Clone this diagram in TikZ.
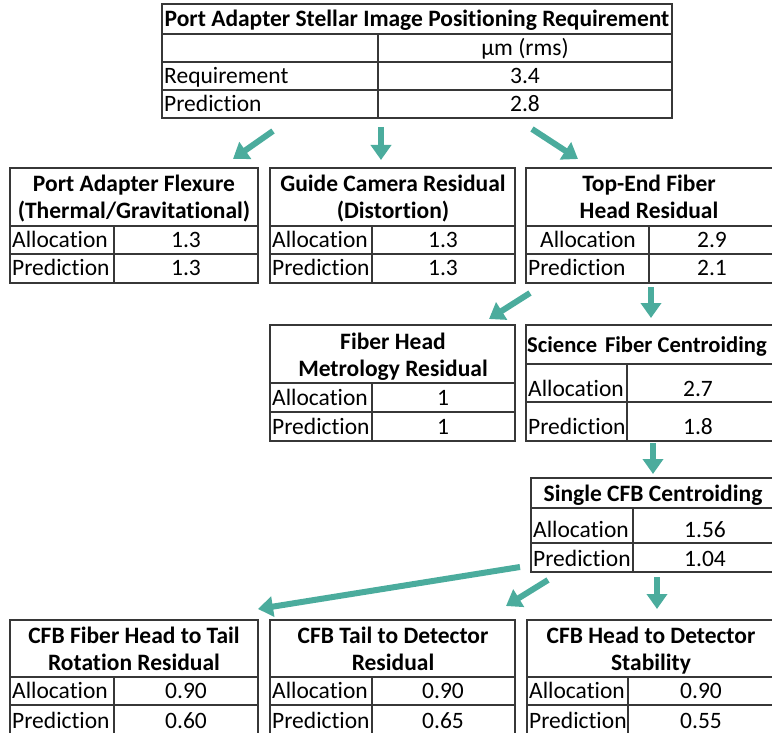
\documentclass[tikz,border=0pt]{standalone}
\usepackage{fontspec}
\setmainfont{Carlito}[Ligatures=NoCommon]
\usetikzlibrary{arrows.meta}
\definecolor{arrteal}{RGB}{75,172,157}
\definecolor{gridgrey}{RGB}{55,55,55}
\begin{document}
\begin{tikzpicture}[x=1pt,y=-1pt,
  tline/.style={draw=gridgrey, line width=1.2pt},
  ttl/.style={font=\fontsize{23.5}{28}\selectfont\bfseries, inner sep=0pt, anchor=base},
  ttlw/.style={font=\fontsize{22.6}{28}\selectfont\bfseries, inner sep=0pt, anchor=base west},
  lbl/.style={font=\fontsize{23.5}{28}\selectfont, inner sep=0pt, anchor=base west},
  lblc/.style={font=\fontsize{23.5}{28}\selectfont, inner sep=0pt, anchor=base},
  val/.style={font=\fontsize{23.5}{28}\selectfont, inner sep=0pt, anchor=base},
  arr/.style={draw=arrteal, line width=6pt, -{Triangle[width=20pt,length=15pt]}}]
\useasboundingbox (0,0) rectangle (772,733);
\clip (0,0) rectangle (772,733);

% ---------- top table
\draw[tline] (162,4) rectangle (672,118);
\draw[tline] (162,34)--(672,34) (162,62)--(672,62) (162,90)--(672,90) (378,34)--(378,118);
\node[ttl] (t0) at (417,26.5) {Port Adapter Stellar Image Positioning Requirement};
\node[val] (t0u) at (525,55.5) {µm (rms)};
\node[lbl] (t0r) at (164,83.5) {Requirement};
\node[val] (t0rv) at (525,83.5) {3.4};
\node[lbl] (t0p) at (164,111.5) {Prediction};
\node[val] (t0pv) at (525,111.5) {2.8};

% ---------- table A
\draw[tline] (10,168) rectangle (258,283);
\draw[tline] (10,226)--(258,226) (10,254)--(258,254) (114,226)--(114,283);
\node[ttl] (ta1) at (134,191.5) {Port Adapter Flexure};
\node[ttl] (ta2) at (134,218.5) {(Thermal/Gravitational)};
\node[lbl] (taa) at (12,247.5) {Allocation};
\node[val] (taav) at (186,247.5) {1.3};
\node[lbl] (tap) at (12,275.5) {Prediction};
\node[val] (tapv) at (186,275.5) {1.3};

% ---------- table B
\draw[tline] (270,168) rectangle (515,283);
\draw[tline] (270,226)--(515,226) (270,254)--(515,254) (372,226)--(372,283);
\node[ttl] (tb1) at (393,191.5) {Guide Camera Residual};
\node[ttl] (tb2) at (393,218.5) {(Distortion)};
\node[lbl] (tba) at (272,247.5) {Allocation};
\node[val] (tbav) at (443,247.5) {1.3};
\node[lbl] (tbp) at (272,275.5) {Prediction};
\node[val] (tbpv) at (443,275.5) {1.3};

% ---------- table C
\draw[tline] (526,168) rectangle (775,283);
\draw[tline] (526,226)--(775,226) (526,254)--(775,254) (649,226)--(649,283);
\node[ttl] (tc1) at (649,191.5) {Top-End Fiber};
\node[ttl] (tc2) at (649,218.5) {Head Residual};
\node[lblc] (tca) at (588,247.5) {Allocation};
\node[val] (tcav) at (712,247.5) {2.9};
\node[lbl] (tcp) at (528,275.5) {Prediction};
\node[val] (tcpv) at (712,275.5) {2.1};

% ---------- table D
\draw[tline] (270,325) rectangle (515,441);
\draw[tline] (270,383)--(515,383) (270,412)--(515,412) (372,383)--(372,441);
\node[ttl] (td1) at (393,349.5) {Fiber Head};
\node[ttl] (td2) at (393,376.5) {Metrology Residual};
\node[lbl] (tda) at (272,405.5) {Allocation};
\node[val] (tdav) at (443,405.5) {1};
\node[lbl] (tdp) at (272,434.5) {Prediction};
\node[val] (tdpv) at (443,434.5) {1};

% ---------- table E
\draw[tline] (526,325) rectangle (775,441);
\draw[tline] (526,364)--(775,364) (526,402)--(775,402) (627,364)--(627,441);
\node[ttlw] (te1) at (527,352.5) {Science\hspace{0.12em} Fiber Centroiding};
\node[lbl] (tea) at (528,396.5) {Allocation};
\node[val] (teav) at (698,396.5) {2.7};
\node[lbl] (tep) at (528,434.5) {Prediction};
\node[val] (tepv) at (698,434.5) {1.8};

% ---------- table F
\draw[tline] (531,478) rectangle (775,572);
\draw[tline] (531,508)--(775,508) (531,543)--(775,543) (633,508)--(633,572);
\node[ttl] (tf1) at (653,501) {Single CFB Centroiding};
\node[lbl] (tfa) at (533,537) {Allocation};
\node[val] (tfav) at (705,537) {1.56};
\node[lbl] (tfp) at (533,566) {Prediction};
\node[val] (tfpv) at (705,566) {1.04};

% ---------- table G
\draw[tline] (10,620) rectangle (258,740);
\draw[tline] (10,677)--(258,677) (10,705)--(258,705) (114,677)--(114,740);
\node[ttl] (tg1) at (134,643.5) {CFB Fiber Head to Tail};
\node[ttl] (tg2) at (134,670.5) {Rotation Residual};
\node[lbl] (tga) at (12,698.5) {Allocation};
\node[val] (tgav) at (186,698.5) {0.90};
\node[lbl] (tgp) at (12,728) {Prediction};
\node[val] (tgpv) at (186,728) {0.60};

% ---------- table H
\draw[tline] (270,620) rectangle (515,740);
\draw[tline] (270,677)--(515,677) (270,705)--(515,705) (372,677)--(372,740);
\node[ttl] (th1) at (393,643.5) {CFB Tail to Detector};
\node[ttl] (th2) at (393,670.5) {Residual};
\node[lbl] (tha) at (272,698.5) {Allocation};
\node[val] (thav) at (443,698.5) {0.90};
\node[lbl] (thp) at (272,728) {Prediction};
\node[val] (thpv) at (443,728) {0.65};

% ---------- table I
\draw[tline] (527,620) rectangle (775,740);
\draw[tline] (527,677)--(775,677) (527,705)--(775,705) (628,677)--(628,740);
\node[ttl] (ti1) at (651,643.5) {CFB Head to Detector};
\node[ttl] (ti2) at (651,670.5) {Stability};
\node[lbl] (tia) at (529,698.5) {Allocation};
\node[val] (tiav) at (701,698.5) {0.90};
\node[lbl] (tip) at (529,728) {Prediction};
\node[val] (tipv) at (701,728) {0.55};

% ---------- arrows
\coordinate (a1s) at (273,131); \coordinate (a1e) at (233,159);
\coordinate (a2s) at (381,127); \coordinate (a2e) at (381,160);
\coordinate (a3s) at (532,129); \coordinate (a3e) at (578,159);
\coordinate (a4s) at (530,293); \coordinate (a4e) at (489,319);
\coordinate (a5s) at (651,287); \coordinate (a5e) at (651,318);
\coordinate (a6s) at (653,443); \coordinate (a6e) at (653,474);
\coordinate (a7s) at (520,567); \coordinate (a7e) at (258,609);
\coordinate (a8s) at (548,580); \coordinate (a8e) at (506,606);
\coordinate (a9s) at (657,577); \coordinate (a9e) at (657,609);
\foreach \i in {1,...,9} \draw[arr] (a\i s) -- (a\i e);
\end{tikzpicture}
\end{document}
